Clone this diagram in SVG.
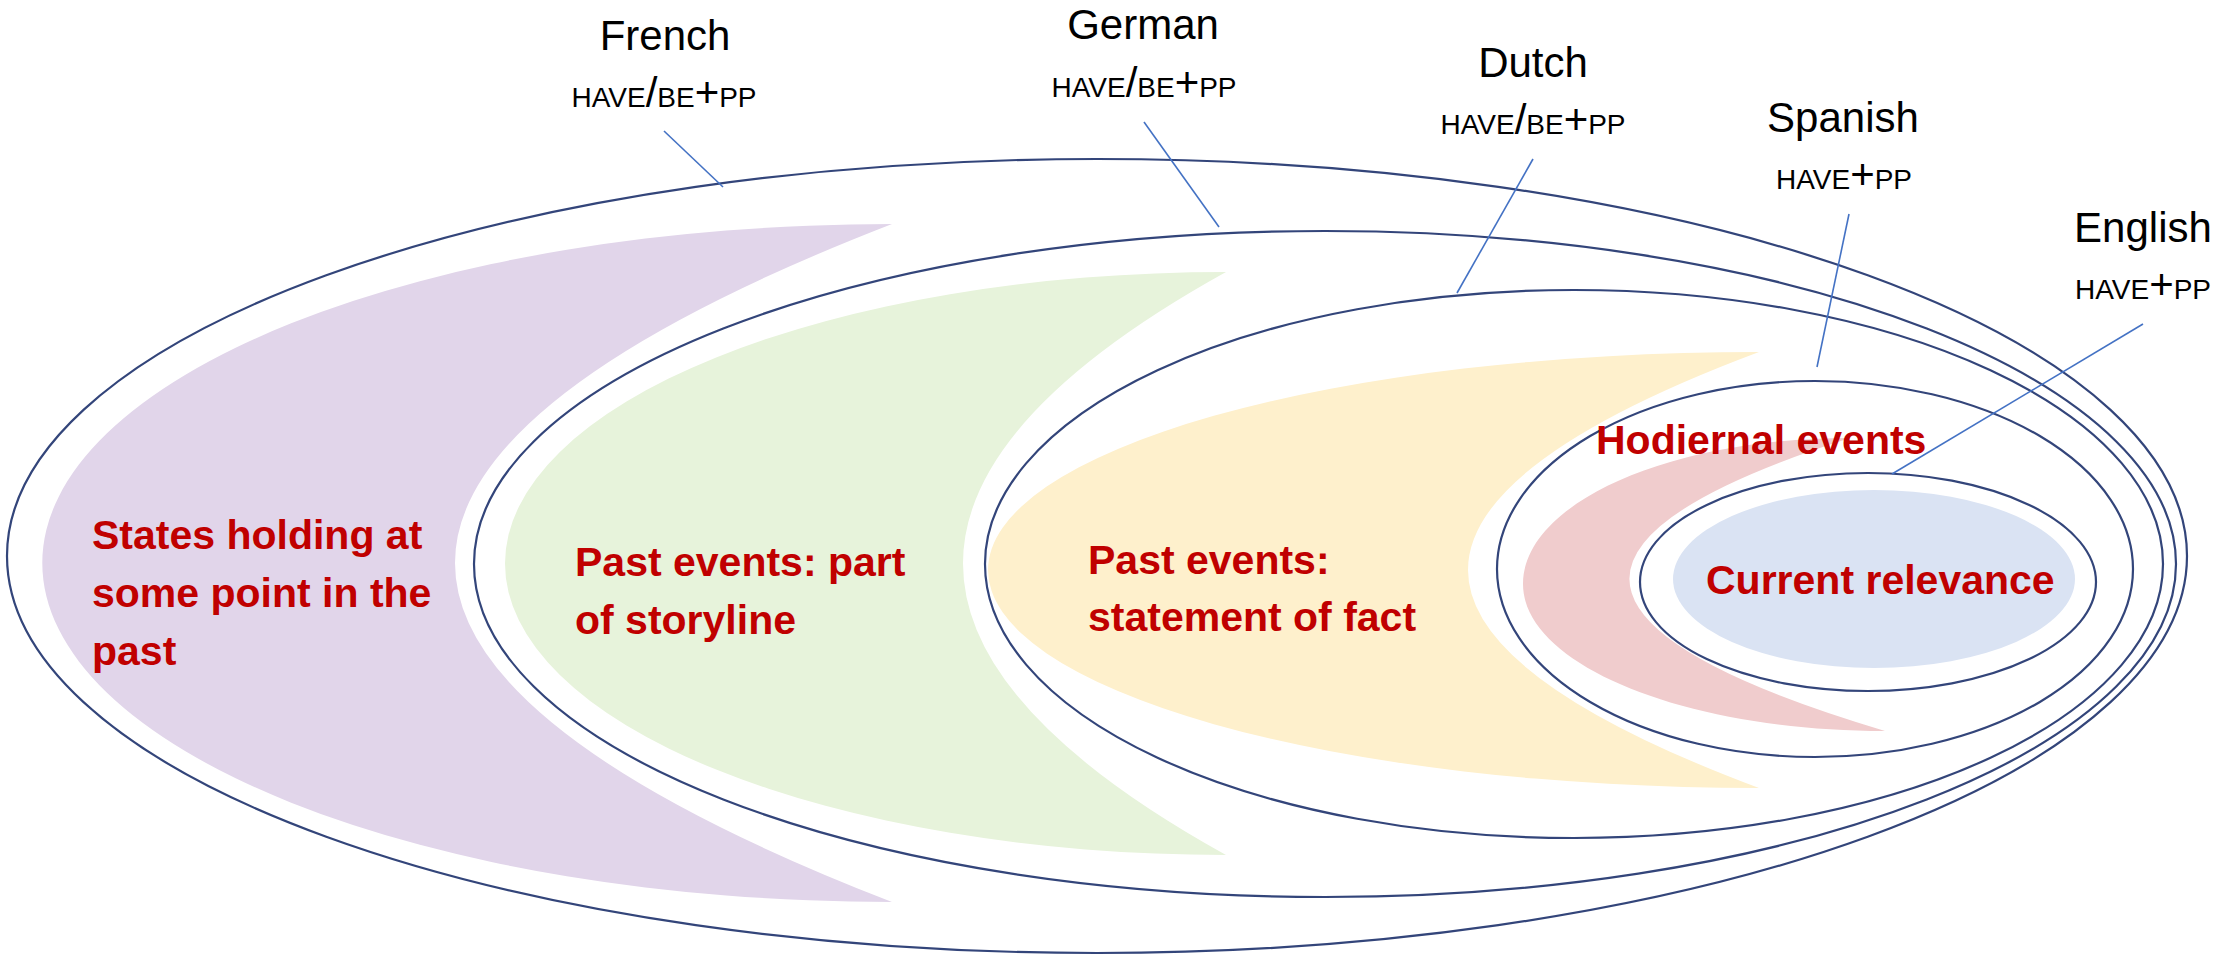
<svg xmlns="http://www.w3.org/2000/svg" width="2220" height="958" viewBox="0 0 2220 958">
<style>
.ring{fill:none;stroke:#33457A;stroke-width:2.2}
.lead{stroke:#4472C4;stroke-width:1.6;fill:none}
.lang{font-family:"Liberation Sans",Arial,sans-serif;font-size:42px;fill:#000;text-anchor:middle}
.sc{font-size:28px}
.sym{font-size:42px}
.cat{font-family:"Liberation Sans",Arial,sans-serif;font-size:41px;font-weight:bold;fill:#C00000}
</style>
<rect width="2220" height="958" fill="#ffffff"/>
<g id="areas">
<path id="area-states" d="M892 224 A850 339 0 0 0 892 902 Q18 563 892 224 Z" fill="#E1D5EA"/>
<path id="area-storyline" d="M1226 272 A721 291.5 0 0 0 1226 855 Q700 563.5 1226 272 Z" fill="#E7F3DB"/>
<path id="area-fact" d="M1759 352 A771 218 0 0 0 1759 788 Q1177 570 1759 352 Z" fill="#FEF0CC"/>
<path id="area-hodiernal" d="M1850 438 C1670 438 1523 503 1523 584 C1523 665 1685 731 1885 731 Q1392 584 1850 438 Z" fill="#F0CCCD"/>
<ellipse id="area-current" cx="1874" cy="579" rx="201" ry="89" fill="#DAE3F3"/>
</g>
<g id="french"><ellipse class="ring" cx="1097" cy="556" rx="1090" ry="397"/>
<text class="lang" x="665" y="50">French</text>
<text class="lang" x="664" y="107"><tspan class="sc">HAVE</tspan><tspan class="sym">/</tspan><tspan class="sc">BE</tspan><tspan class="sym">+</tspan><tspan class="sc">PP</tspan></text></g>
<g id="german"><ellipse class="ring" cx="1325" cy="564" rx="851" ry="333"/>
<text class="lang" x="1143" y="39">German</text>
<text class="lang" x="1144" y="97"><tspan class="sc">HAVE</tspan><tspan class="sym">/</tspan><tspan class="sc">BE</tspan><tspan class="sym">+</tspan><tspan class="sc">PP</tspan></text></g>
<g id="dutch"><ellipse class="ring" cx="1574" cy="564" rx="589" ry="274"/>
<text class="lang" x="1533" y="77">Dutch</text>
<text class="lang" x="1533" y="134"><tspan class="sc">HAVE</tspan><tspan class="sym">/</tspan><tspan class="sc">BE</tspan><tspan class="sym">+</tspan><tspan class="sc">PP</tspan></text></g>
<g id="spanish"><ellipse class="ring" cx="1815" cy="569" rx="318" ry="188"/>
<text class="lang" x="1843" y="132">Spanish</text>
<text class="lang" x="1844" y="189"><tspan class="sc">HAVE</tspan><tspan class="sym">+</tspan><tspan class="sc">PP</tspan></text></g>
<g id="english"><ellipse class="ring" cx="1868" cy="582" rx="228" ry="109"/>
<text class="lang" x="2143" y="242">English</text>
<text class="lang" x="2143" y="299"><tspan class="sc">HAVE</tspan><tspan class="sym">+</tspan><tspan class="sc">PP</tspan></text></g>
<g id="labels">
<text class="cat" x="92" y="549">States holding at</text>
<text class="cat" x="92" y="607">some point in the</text>
<text class="cat" x="92" y="665">past</text>
<text class="cat" x="575" y="576">Past events: part</text>
<text class="cat" x="575" y="634">of storyline</text>
<text class="cat" x="1088" y="574">Past events:</text>
<text class="cat" x="1088" y="631">statement of fact</text>
<text class="cat" x="1596" y="454">Hodiernal events</text>
<text class="cat" x="1706" y="594">Current relevance</text>
</g>
<g id="connectors">
<line class="lead" x1="664" y1="131" x2="723" y2="187"/>
<line class="lead" x1="1144" y1="122" x2="1219" y2="227"/>
<line class="lead" x1="1533" y1="159" x2="1457" y2="293"/>
<line class="lead" x1="1849" y1="214" x2="1817" y2="367"/>
<line class="lead" x1="2143" y1="324" x2="1892" y2="474"/>
</g>
</svg>
